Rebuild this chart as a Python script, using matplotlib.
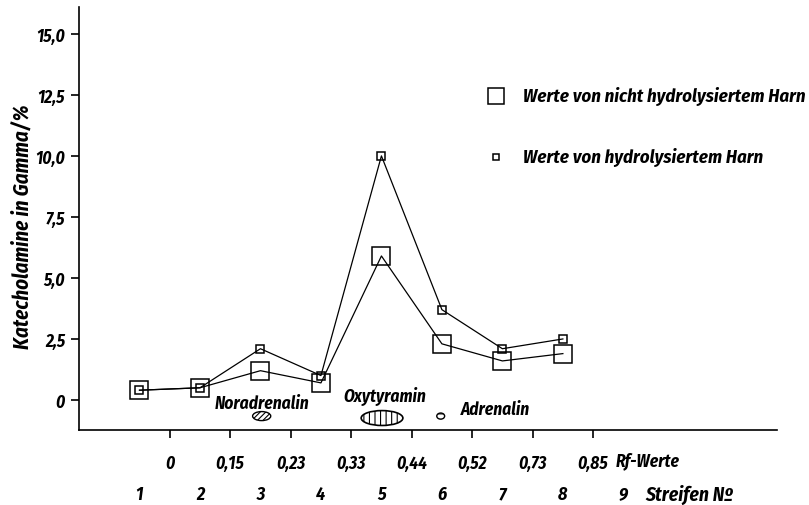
import matplotlib
matplotlib.use("Agg")
from matplotlib import pyplot as plt
from matplotlib.patches import Ellipse

plt.rcParams['font.family'] = ['Fira Sans Condensed', 'DejaVu Sans']
plt.rcParams['font.style'] = 'italic'
plt.rcParams['font.weight'] = 'bold'
plt.rcParams['axes.labelweight'] = 'bold'
plt.rcParams['hatch.linewidth'] = 0.8

# Streifen (paper chromatogram strips) and the catecholamine values per strip
streifen = [1, 2, 3, 4, 5, 6, 7, 8]
nicht_hydrolysiert = [0.4, 0.5, 1.2, 0.7, 5.9, 2.3, 1.6, 1.9]
hydrolysiert = [0.4, 0.5, 2.1, 1.0, 10.0, 3.7, 2.1, 2.5]

rf_werte = ['0', '0,15', '0,23', '0,33', '0,44', '0,52', '0,73', '0,85']
y_ticks = [0, 2.5, 5.0, 7.5, 10.0, 12.5, 15.0]
y_labels = ['0', '2,5', '5,0', '7,5', '10,0', '12,5', '15,0']

fs = 12.5

fig = plt.figure(figsize=(8.09, 5.06), dpi=100)
ax = fig.add_axes([79 / 809, 75 / 506, 698 / 809, 423 / 506])

ax.plot(streifen, nicht_hydrolysiert, color='k', lw=0.9, marker='s', ms=13.5,
        mfc='none', mec='k', mew=1.1)
ax.plot(streifen, hydrolysiert, color='k', lw=0.9, marker='s', ms=5.5,
        mfc='none', mec='k', mew=1.1)

ax.set_xlim(0, 11.54)
ax.set_ylim(-1.23, 16.1)

for s in ['top', 'right']:
    ax.spines[s].set_visible(False)
for s in ['left', 'bottom']:
    ax.spines[s].set_linewidth(1.2)

ax.set_yticks(y_ticks)
ax.set_yticklabels(y_labels)
ax.set_xticks([i + 0.5 for i in streifen])
ax.set_xticklabels(rf_werte)
ax.tick_params(axis='y', length=6, width=1.2, labelsize=fs, pad=4)
ax.tick_params(axis='x', length=6, width=1.2, labelsize=fs, pad=11)

ax.set_ylabel('Katecholamine in Gamma/%', fontsize=15)
ax.yaxis.set_label_coords(-0.0817, 0.482)
ax.yaxis.label.set_verticalalignment('center')

# second label row: strip numbers
for i in streifen + [9]:
    ax.text(i, -3.85, str(i), ha='center', va='center', fontsize=13, clip_on=False)
ax.text(9.40, -2.46, 'Rf-Werte', ha='center', va='center', fontsize=fs)
ax.text(10.09, -3.85, 'Streifen Nº', ha='center', va='center', fontsize=14)

# spots on the chromatogram
ax.text(3.02, -0.10, 'Noradrenalin', ha='center', va='center', fontsize=fs)
ax.add_patch(Ellipse((3.02, -0.66), 0.30, 0.37, fill=False, lw=1.0, hatch='//////'))
ax.text(5.06, 0.2, 'Oxytyramin', ha='center', va='center', fontsize=fs)
ax.add_patch(Ellipse((5.01, -0.74), 0.69, 0.61, fill=False, lw=1.2, hatch='|||'))
ax.text(6.88, -0.37, 'Adrenalin', ha='center', va='center', fontsize=fs)
ax.add_patch(Ellipse((5.98, -0.66), 0.13, 0.25, fill=False, lw=1.0, hatch='---'))

# key
ax.plot([6.89], [12.46], marker='s', ms=12, mfc='none', mec='k', mew=1.1, ls='none')
ax.text(7.34, 12.46, 'Werte von nicht hydrolysiertem Harn', ha='left', va='center',
        fontsize=13.5)
ax.plot([6.89], [9.96], marker='s', ms=4.5, mfc='none', mec='k', mew=1.1, ls='none')
ax.text(7.34, 9.96, 'Werte von hydrolysiertem Harn', ha='left', va='center',
        fontsize=13.5)

plt.savefig('out.png', dpi=100)
